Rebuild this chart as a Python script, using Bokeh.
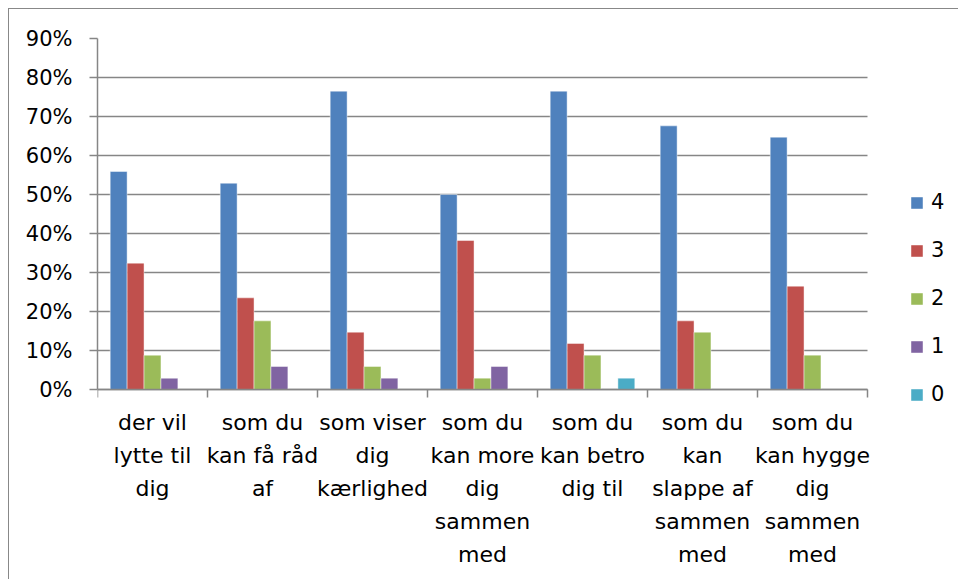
from bokeh.plotting import figure
from bokeh.models import FixedTicker, Legend, LegendItem, NumeralTickFormatter, ColumnDataSource, Range1d, LinearAxis
from bokeh.embed import file_html
from bokeh.resources import INLINE

categories = [
    "der vil\nlytte til\ndig",
    "som du\nkan få råd\naf",
    "som viser\ndig\nkærlighed",
    "som du\nkan more\ndig\nsammen\nmed",
    "som du\nkan betro\ndig til",
    "som du\nkan\nslappe af\nsammen\nmed",
    "som du\nkan hygge\ndig\nsammen\nmed",
]
series_names = ["4", "3", "2", "1", "0"]
v4 = [0.559, 0.529, 0.765, 0.500, 0.765, 0.676, 0.647]
v3 = [0.324, 0.235, 0.147, 0.382, 0.118, 0.176, 0.265]
v2 = [0.088, 0.176, 0.059, 0.029, 0.088, 0.147, 0.088]
v1 = [0.029, 0.059, 0.029, 0.059, 0.0, 0.0, 0.0]
v0 = [0.0, 0.0, 0.0, 0.0, 0.029, 0.0, 0.0]
y_ticks = [0.0, 0.1, 0.2, 0.3, 0.4, 0.5, 0.6, 0.7, 0.8, 0.9]
colors = ["#4F81BD", "#C0504D", "#9BBB59", "#8064A2", "#4BACC6"]

series = [v4, v3, v2, v1, v0]
n_cat = len(categories)
n_ser = len(series)
bw = 1.0 / (n_ser + 1.5)

FONT = "DejaVu Sans"
GRID = "#868686"

# layout geometry (pixels, page coordinates)
W, H = 950, 571
OFF = 9
FRAME_L, FRAME_T = 97, 38
AXIS_Y = 389
PX_CAT = 110.0
FRAME_R, FRAME_B = OFF + W, OFF + H
x_end = (FRAME_R - FRAME_L) / PX_CAT
px_per_unit = (AXIS_Y - FRAME_T) / 0.9
y_start = -(FRAME_B - AXIS_Y) / px_per_unit

p = figure(width=W, height=H, x_range=Range1d(0, x_end), y_range=Range1d(y_start, 0.9),
           output_backend="svg", toolbar_location=None, x_axis_location=None,
           min_border_left=FRAME_L - OFF, min_border_right=0,
           min_border_top=FRAME_T - OFF, min_border_bottom=0)
p.outline_line_color = None
p.background_fill_color = "white"
p.border_fill_color = "white"

items = []
for j, (name, vals, col) in enumerate(zip(series_names, series, colors)):
    xs = [i + 0.5 + (j - (n_ser - 1) / 2) * bw for i in range(n_cat)]
    src = ColumnDataSource(dict(x=xs, top=vals))
    r = p.vbar(x="x", top="top", bottom=0, width=bw, source=src, fill_color=col,
               line_color="white", line_alpha=0.45, line_width=1)
    items.append(LegendItem(label=name, renderers=[r]))

# y axis
p.yaxis.ticker = FixedTicker(ticks=y_ticks)
p.yaxis.bounds = (0, 0.9)
p.yaxis.formatter = NumeralTickFormatter(format="0%")
p.yaxis.major_label_text_font = FONT
p.yaxis.major_label_text_font_size = "21px"
p.yaxis.major_label_text_color = "#000000"
p.yaxis.major_tick_out = 8
p.yaxis.major_tick_in = 0
p.yaxis.minor_tick_line_color = None
p.yaxis.axis_line_color = GRID
p.yaxis.axis_line_width = 1.5
p.yaxis.major_tick_line_color = GRID
p.yaxis.major_tick_line_width = 1.5
p.yaxis.major_label_standoff = 17

# x axis placed at y = 0 inside the frame
xaxis = LinearAxis(fixed_location=0)
centers = [i + 0.5 for i in range(n_cat)]
xaxis.ticker = FixedTicker(ticks=centers, minor_ticks=list(range(n_cat + 1)))
xaxis.bounds = (0, n_cat)
xaxis.major_label_overrides = {c: lab for c, lab in zip(centers, categories)}
xaxis.major_tick_out = 0
xaxis.major_tick_in = 0
xaxis.minor_tick_out = 8
xaxis.minor_tick_in = 0
xaxis.minor_tick_line_color = GRID
xaxis.minor_tick_line_width = 1.5
xaxis.axis_line_color = GRID
xaxis.axis_line_width = 1.5
xaxis.major_label_text_font = FONT
xaxis.major_label_text_font_size = "22px"
xaxis.major_label_text_color = "#000000"
xaxis.major_label_text_line_height = 1.32
xaxis.major_label_standoff = 12
p.add_layout(xaxis, "below")

p.xgrid.grid_line_color = None
p.ygrid.ticker = FixedTicker(ticks=y_ticks)
p.ygrid.grid_line_color = GRID
p.ygrid.grid_line_width = 1.5
p.ygrid.cross_bounds = (0, n_cat)

legend = Legend(items=items, location=(909 - FRAME_L, FRAME_B - 406), orientation="vertical",
                glyph_width=15, glyph_height=15, spacing=24, label_standoff=7,
                padding=0, margin=0, border_line_color=None, background_fill_alpha=0)
legend.label_text_font = FONT
legend.label_text_font_size = "21px"
legend.label_text_color = "#000000"
p.add_layout(legend)

p.styles = {"margin-left": "8px", "margin-top": "8px",
            "border-left": "1px solid #888888", "border-top": "1px solid #888888"}

open("out.html", "w").write(file_html(p, INLINE))
